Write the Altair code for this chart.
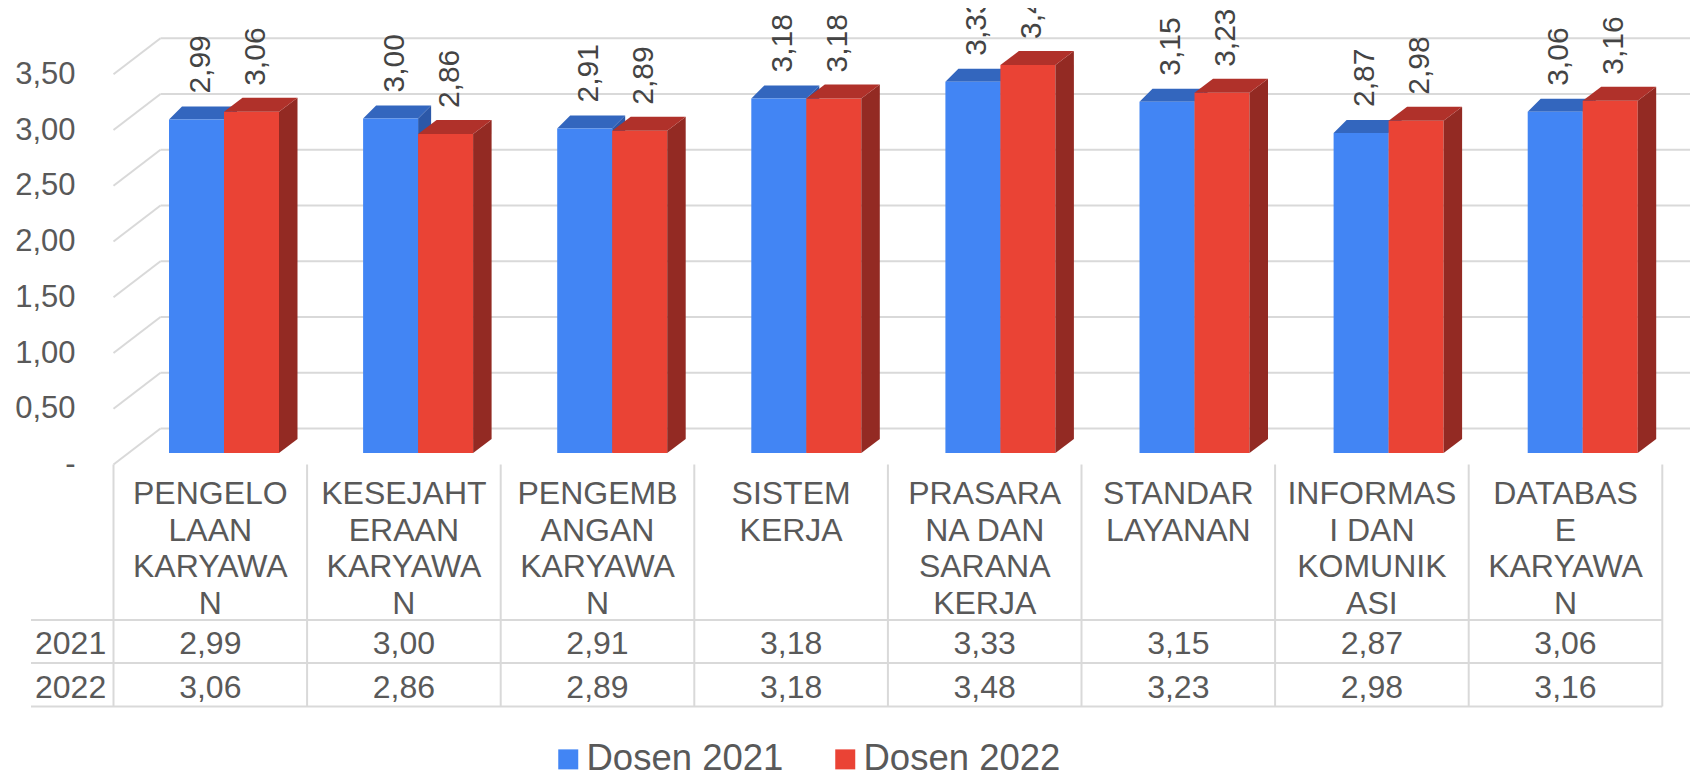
import altair as alt
import pandas as pd

# ---------------- data ----------------
CATEGORIES = ["PENGELOLAAN KARYAWAN", "KESEJAHTERAAN KARYAWAN", "PENGEMBANGAN KARYAWAN",
              "SISTEM KERJA", "PRASARANA DAN SARANA KERJA", "STANDAR LAYANAN",
              "INFORMASI DAN KOMUNIKASI", "DATABASE KARYAWAN"]
CATEGORY_LINES = [["PENGELO", "LAAN", "KARYAWA", "N"],
                  ["KESEJAHT", "ERAAN", "KARYAWA", "N"],
                  ["PENGEMB", "ANGAN", "KARYAWA", "N"],
                  ["SISTEM", "KERJA"],
                  ["PRASARA", "NA DAN", "SARANA", "KERJA"],
                  ["STANDAR", "LAYANAN"],
                  ["INFORMAS", "I DAN", "KOMUNIK", "ASI"],
                  ["DATABAS", "E", "KARYAWA", "N"]]
SERIES = ["Dosen 2021", "Dosen 2022"]
ROW_LABELS = ["2021", "2022"]
DOSEN_2021 = [2.99, 3.00, 2.91, 3.18, 3.33, 3.15, 2.87, 3.06]
DOSEN_2022 = [3.06, 2.86, 2.89, 3.18, 3.48, 3.23, 2.98, 3.16]
Y_TICKS = [0, 0.5, 1, 1.5, 2, 2.5, 3, 3.5]
VALUES = [DOSEN_2021, DOSEN_2022]

# ---------------- style ----------------
FONT = "Liberation Sans"
TEXT = "#595959"
LABEL = "#444444"
GRID = "#D9D9D9"
FRONT = ["#4285F4", "#EA4335"]
TOP = ["#3366BE", "#B0312A"]
SIDE = ["#2C58A8", "#932A23"]

# ---------------- layout (page pixels -> data units) ----------------
PX0, PPU_X = 113.5, 193.6      # column 0 left edge, px per column
PY0, PPU_Y = 464.5, 111.5      # value 0 (front), px per unit
PAD_LEFT, W = 105, 1577
H = 763
def ux(px): return (px - PX0) / PPU_X
def uy(py): return (PY0 - py) / PPU_Y
def dxu(p): return p / PPU_X
def dyu(p): return p / PPU_Y

XMIN, XMAX = ux(8 + PAD_LEFT), ux(8 + PAD_LEFT + W)
YMIN, YMAX = uy(8 + H), uy(8)
xs = alt.Scale(domain=[XMIN, XMAX], nice=False, zero=False)
ys = alt.Scale(domain=[YMIN, YMAX], nice=False, zero=False)

Y_AXIS = alt.Axis(
    values=Y_TICKS,
    labelExpr="datum.value == 0 ? '-' : replace(format(datum.value, '.2f'), '.', ',')",
    domain=False, ticks=False, grid=False, title=None,
    labelFont=FONT, labelFontSize=31, labelColor=TEXT, labelPadding=38)

def X(f="x"):
    return alt.X(f"{f}:Q", scale=xs, axis=None)

def Y(f="y", **kw):
    return alt.Y(f"{f}:Q", scale=ys, axis=Y_AXIS, **kw)

WALL_DX, WALL_DY = dxu(47), dyu(36)
BAR_OFF, BAR_W, BAR_STEP = ux(169), dxu(55), 194.1 / PPU_X
BASE = uy(453)
DEPTH = [(dxu(13), dyu(13)), (dxu(18.5), dyu(14))]
LABEL_GAP = dyu(26)
TXT_DY = dyu(2)

def fmt(v):
    return f"{v:.2f}".replace(".", ",")

# ---------------- grid / walls ----------------
grid_rows = []
for v in Y_TICKS:
    grid_rows.append(dict(x=WALL_DX, x2=XMAX, y=v + WALL_DY, y2=v + WALL_DY))
    grid_rows.append(dict(x=0, x2=WALL_DX, y=v, y2=v + WALL_DY))
for i in range(len(CATEGORIES) + 1):
    grid_rows.append(dict(x=i, x2=i, y=0, y2=uy(706.5)))
for py in [620, 663, 706.5]:
    grid_rows.append(dict(x=ux(31), x2=len(CATEGORIES), y=uy(py), y2=uy(py)))
grid_df = pd.DataFrame(grid_rows)

grid = alt.Chart(grid_df).mark_rule(color=GRID, strokeWidth=2).encode(
    x=X(), x2="x2:Q", y=Y(), y2="y2:Q",
)

# ---------------- bars ----------------
front_rows, side_rows, top_rows, label_rows = [], [], [], []
for s, vals in enumerate(VALUES):
    ddx, ddy = DEPTH[s]
    for i, v in enumerate(vals):
        left = i * BAR_STEP + BAR_OFF + s * BAR_W
        right = left + BAR_W
        top = BASE + v
        bid = f"{s}-{i}"
        front_rows.append(dict(x=left, x2=right, y=BASE, y2=top, series=SERIES[s]))
        side_rows += [dict(x=right, y=BASE, y2=top, bid=bid, fill=SIDE[s], s=s),
                      dict(x=right + ddx, y=BASE + ddy, y2=top + ddy, bid=bid, fill=SIDE[s], s=s)]
        top_rows += [dict(x=left, y=top, y2=top, bid=bid, fill=TOP[s], s=s),
                     dict(x=left + ddx, y=top, y2=top + ddy, bid=bid, fill=TOP[s], s=s),
                     dict(x=right, y=top, y2=top + ddy, bid=bid, fill=TOP[s], s=s),
                     dict(x=right + ddx, y=top + ddy, y2=top + ddy, bid=bid, fill=TOP[s], s=s)]
        label_rows.append(dict(x=(left + right) / 2 + dxu(4), y=top + LABEL_GAP, t=fmt(v)))

front_df = pd.DataFrame(front_rows)
side_df = pd.DataFrame(side_rows)
top_df = pd.DataFrame(top_rows)
label_df = pd.DataFrame(label_rows)

def face(df):
    return alt.Chart(df).mark_area(strokeWidth=0, interpolate="linear").encode(
        x=X(), y=Y(stack=None), y2="y2:Q",
        detail="bid:N",
        color=alt.Color("fill:N", scale=None),
    )

blue_side = face(side_df[side_df.s == 0])
blue_top = face(top_df[top_df.s == 0])
red_side = face(side_df[side_df.s == 1])
red_top = face(top_df[top_df.s == 1])

fronts = alt.Chart(front_df).mark_rect().encode(
    x=X(), x2="x2:Q", y=Y(), y2="y2:Q",
    color=alt.Color("series:N", scale=alt.Scale(domain=SERIES, range=FRONT),
                    legend=alt.Legend(orient="none", legendX=437, legendY=733,
                                      direction="horizontal", title=None,
                                      symbolType="square", symbolSize=400,
                                      symbolStrokeWidth=0, labelFontSize=36.5,
                                      labelFont=FONT, labelColor=TEXT, labelLimit=400,
                                      labelOffset=0, columnPadding=43, padding=0)),
)

labels = alt.Chart(label_df).mark_text(
    font=FONT, fontSize=30, color=LABEL, angle=270, align="left", baseline="middle"
).encode(x=X(), y=Y(), text="t:N")

# ---------------- table ----------------
HEADER_Y = [491.5, 528.5, 565, 601.5]
ROW_Y = [641.5, 686]
head_rows = []
for i, lines in enumerate(CATEGORY_LINES):
    for j, ln in enumerate(lines):
        head_rows.append(dict(x=i + 0.5, y=uy(HEADER_Y[j]) - TXT_DY, t=ln))
for r, vals in enumerate(VALUES):
    for i, v in enumerate(vals):
        head_rows.append(dict(x=i + 0.5, y=uy(ROW_Y[r]) - TXT_DY, t=fmt(v)))
table_df = pd.DataFrame(head_rows)
rowlab_df = pd.DataFrame([dict(x=ux(35), y=uy(ROW_Y[r]) - TXT_DY, t=ROW_LABELS[r])
                          for r in range(len(ROW_LABELS))])

table_text = alt.Chart(table_df).mark_text(
    font=FONT, fontSize=32, color=TEXT, align="center", baseline="middle"
).encode(x=X(), y=Y(), text="t:N")
row_text = alt.Chart(rowlab_df).mark_text(
    font=FONT, fontSize=32, color=TEXT, align="left", baseline="middle"
).encode(x=X(), y=Y(), text="t:N")

chart = alt.layer(
    grid, blue_side, blue_top, fronts, red_side, red_top, labels, table_text, row_text
).properties(
    width=W, height=H,
    padding={"left": PAD_LEFT, "top": 0, "right": 0, "bottom": 0},
    autosize=alt.AutoSizeParams(type="none"),
).configure_view(stroke=None)

chart.save("out.html", embed_options={"renderer": "svg", "actions": False})
